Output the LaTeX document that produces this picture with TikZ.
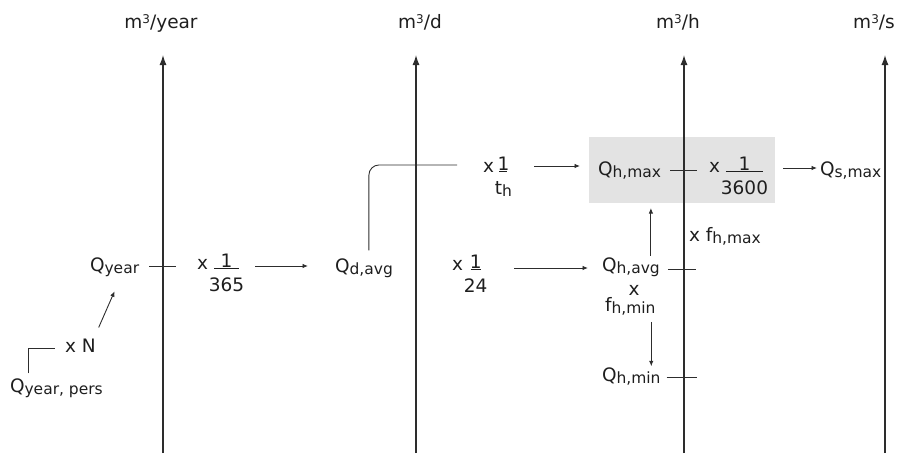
\documentclass[tikz,border=0pt]{standalone}
\usepackage{fontspec}
\setmainfont{DejaVu Sans}
\usetikzlibrary{arrows.meta,calc}
\definecolor{boxgray}{RGB}{227,227,227}
\definecolor{ink}{RGB}{30,30,30}
\definecolor{linec}{RGB}{45,45,45}
\newcommand\sbs[1]{\raisebox{-2pt}{\fontsize{15.5}{16}\selectfont #1}}
\newcommand\supr[1]{\raisebox{5pt}{\fontsize{12}{12}\selectfont #1}}
\newcommand\fr[3]{\raisebox{2pt}{\vtop{\offinterlineskip\halign{\hfil##\hfil\cr #1\cr\noalign{\kern1pt}\rule{#3}{0.8pt}\cr\noalign{\kern8.7pt}\rule{0pt}{13.5pt}#2\cr}}}}
\begin{document}
\begin{tikzpicture}[x=1pt,y=-1pt,
  every node/.style={inner sep=0pt,outer sep=0pt,font=\fontsize{18.5}{22}\selectfont,text=ink},
  lbl/.style={anchor=base west},
  conn/.style={draw=linec,line width=0.9pt},
  arr/.style={conn,-{Latex[length=5.5pt,width=4.5pt]}},
  axisln/.style={draw=linec,line width=1.3pt,-{Latex[length=10pt,width=7pt]}},
  hl/.style={fill=boxgray,draw=none}]
\useasboundingbox (0,0) rectangle (914,453);
% highlight box
\node[hl,anchor=north west,minimum width=186pt,minimum height=66pt] (hbox) at (589,137) {};
% axes
\foreach \n/\x in {ay/163,ad/416,ah/684,as/885}{
  \coordinate (\n b) at (\x,453);
  \coordinate (\n t) at (\x,55);
  \draw[axisln] (\n b) -- (\n t);
}
% unit labels
\node[anchor=base] (uy) at (161,28) {m\supr{3}/year};
\node[anchor=base] (ud) at (420,28) {m\supr{3}/d};
\node[anchor=base] (uh) at (678,28) {m\supr{3}/h};
\node[anchor=base] (us) at (874,28) {m\supr{3}/s};
% row coordinates
\coordinate (rA) at (0,266);
\coordinate (rB) at (0,165);
\coordinate (rC) at (0,170);
\coordinate (rC2) at (0,168);
\coordinate (rD) at (0,268);
\coordinate (rD2) at (0,269);
\coordinate (rE) at (0,377);
% texts
\node[lbl] (Qyear) at (90,271) {Q\sbs{year}};
\node[lbl] (f365) at (197,269) {x\hspace{1pt}\fr{1}{365}{25pt}};
\node[lbl] (Qdavg) at (335,272) {Q\sbs{d,avg}};
\node[lbl] (fth) at (483,172) {x\hspace{1pt}\fr{1}{t\sbs{h}}{8pt}};
\node[lbl] (f24) at (452,270) {x\hspace{1pt}\fr{1}{24}{10pt}};
\node[lbl] (Qhmax) at (598,175) {Q\sbs{h,max}};
\node[lbl] (f3600) at (709,172) {x\hspace{1pt}\fr{1}{3600}{37pt}};
\node[lbl] (Qsmax) at (820,175) {Q\sbs{s,max}};
\node[lbl] (fhmax) at (689,241) {x f\sbs{h,max}};
\node[lbl] (Qhavg) at (602,271) {Q\sbs{h,avg}};
\node[anchor=base] (xmin) at (634,295) {x};
\node[lbl] (fhmin) at (605,311) {f\sbs{h,min}};
\node[lbl] (Qhmin) at (602,381) {Q\sbs{h,min}};
\node[lbl] (xN) at (65,352) {x N};
\node[lbl] (Qpers) at (10,392) {Q\sbs{year, pers}};
% connectors
\draw[conn] ($(Qyear.east|-rA)+(10,0)$) -- ($(Qyear.east|-rA)+(37,0)$);
\draw[arr] ($(f365.east|-rA)+(11,0)$) -- ($(Qdavg.west|-rA)+(-27,0)$);
\draw[conn,rounded corners=10pt] ($(Qdavg.north)+(5,-8)$) |- ($(fth.west|-rB)+(-26,0)$);
\draw[arr] ($(fth.east|-rB)+(22,1)$) -- ($(Qhmax.west|-rB)+(-18,1)$);
\draw[conn] ($(Qhmax.east|-rC)+(9,0)$) -- ($(Qhmax.east|-rC)+(36,0)$);
\draw[arr] ($(f3600.east|-rC2)+(15,0)$) -- ($(Qsmax.west|-rC2)+(-3,0)$);
\draw[arr] ($(Qhavg.north)+(20,-1.5)$) -- ($(hbox.south-|Qhavg.north)+(20,5)$);
\draw[arr] ($(f24.east|-rD)+(27,0)$) -- ($(Qhavg.west|-rD)+(-14,0)$);
\draw[conn] ($(Qhavg.east|-rD2)+(8,0)$) -- ($(Qhavg.east|-rD2)+(36,0)$);
\draw[arr] ($(fhmin.south-|Qhmin.north)+(20,7)$) -- ($(Qhmin.north)+(20,-1)$);
\draw[conn] ($(Qhmin.east|-rE)+(6,0)$) -- ($(Qhmin.east|-rE)+(36,0)$);
\draw[conn] ($(Qpers.north west)+(18,-5)$) |- ($(xN.west)+(-10,3)$);
\draw[arr] ($(xN.north east)+(3,-11)$) -- ($(Qyear.south)+(0,15)$);
\end{tikzpicture}
\end{document}
